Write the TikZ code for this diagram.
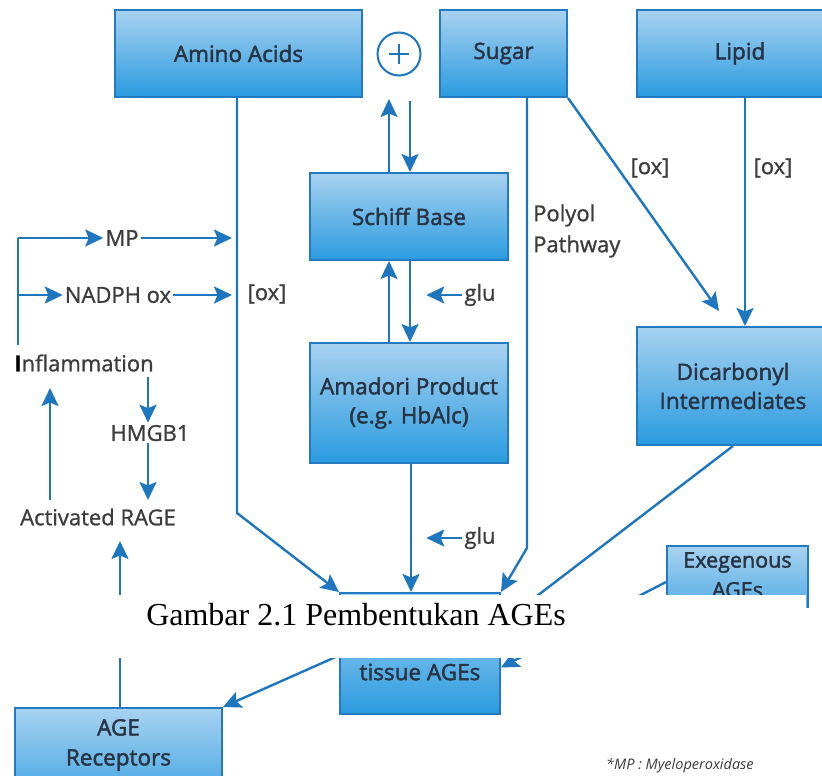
\documentclass[tikz,border=0pt]{standalone}
\usepackage{fontspec}
\setmainfont{Open Sans}
\newfontfamily\boxfont{Open Sans}[FakeBold=2]
\newfontfamily\lblfont{Open Sans}[FakeBold=1]
\newfontfamily\capfont{Liberation Serif}
\newfontfamily\fnfont{Open Sans}
\usetikzlibrary{arrows.meta,calc}
\definecolor{lineblue}{RGB}{30,118,190}
\definecolor{boxtop}{RGB}{168,210,240}
\definecolor{boxbot}{RGB}{42,155,224}
\definecolor{boxedge}{RGB}{35,122,192}
\definecolor{boxtext}{RGB}{40,52,68}
\definecolor{labeltext}{RGB}{60,60,60}
\tikzset{
  agebox/.style={rectangle, draw=boxedge, line width=2pt, top color=boxtop, bottom color=boxbot,
    inner sep=0pt, text=boxtext, font=\boxfont\fontsize{22.5}{29}\selectfont, align=center},
  boxlbl/.style={inner sep=0pt, text=boxtext, font=\boxfont\fontsize{22.5}{30}\selectfont, align=center},
  lbl/.style={inner sep=2pt, text=labeltext, font=\lblfont\fontsize{22}{31}\selectfont},
  conn/.style={draw=lineblue, line width=2.4pt, -{Stealth[length=18pt,width=17pt,inset=3.5pt]}},
  plainline/.style={draw=lineblue, line width=2.4pt}
}
\begin{document}
\begin{tikzpicture}[x=1pt,y=-1pt]
\useasboundingbox (0,0) rectangle (822,776);
\fill[white] (0,0) rectangle (822,776);

% boxes
\node[agebox, minimum width=247pt, minimum height=87pt] (amino) at (238.5,53.5) {Amino Acids};
\node[agebox, minimum width=127pt, minimum height=87pt] (sugar) at (503.5,53.5) {Sugar};
\node[agebox, minimum width=206pt, minimum height=87pt] (lipid) at (740,53.5) {Lipid};
\node[agebox, minimum width=198pt, minimum height=87pt] (schiff) at (409,216.5) {Schiff Base};
\node[agebox, minimum width=198pt, minimum height=120pt] (amadori) at (409,403) {Amadori Product\\(e.g. HbAlc)};
\node[agebox, minimum width=192pt, minimum height=118pt] (dicarb) at (733,386) {Dicarbonyl\\Intermediates};
\node[agebox, minimum width=160pt, minimum height=121pt] (tissue) at (420,653.5) {};
\node[boxlbl] (tissuetxt) at (420,672) {tissue AGEs};
\node[agebox, minimum width=141pt, minimum height=94pt] (exo) at (737.5,593) {};
\node[boxlbl, font=\boxfont\fontsize{21.5}{30}\selectfont] (exotxt) at (737.5,575) {Exegenous\\AGEs};
\node[agebox, minimum width=207pt, minimum height=112pt] (agerec) at (118.5,764) {};
\node[boxlbl] (agerectxt) at (118.5,745) {AGE\\Receptors};

% plus circle
\node[circle, draw=lineblue, line width=2pt, minimum size=43pt, inner sep=0pt] (plus) at (399,54) {};
\draw[plainline, line width=2.8pt] ($(plus.center)+(-10,0)$) -- ($(plus.center)+(10,0)$);
\draw[plainline, line width=2.8pt] ($(plus.center)+(0,-10)$) -- ($(plus.center)+(0,10)$);

% labels
\node[lbl] (mp) at (122,238) {MP};
\node[lbl] (nadph) at (118,295) {NADPH ox};
\node[lbl] (oxl) at (267,294) {[ox]};
\node[lbl] (infl) at (84,363) {{\color{black}\bfseries I}nflammation};
\node[lbl] (hmgb) at (150,433) {HMGB1};
\node[lbl] (rage) at (98,517) {Activated RAGE};
\node[lbl] (glu1) at (480,295) {glu};
\node[lbl] (glu2) at (480,538) {glu};
\node[lbl] (ox1) at (650,168) {[ox]};
\node[lbl] (ox2) at (773,168) {[ox]};
\node[lbl, align=left, anchor=west] (polyol) at (531,231) {Polyol\\Pathway};

% named free ends
\coordinate (lt) at (18,238);
\coordinate (lm) at (18,295);
\coordinate (lb) at (18,345);
\coordinate (mpend) at (232,238);
\coordinate (nadend) at (232,295);
\coordinate (infup0) at (50,500);
\coordinate (infup1) at (50,388);

% Schiff base <-> plus
\draw[conn] ([xshift=-20pt]schiff.north) -- ++(0,-73);
\draw[conn] ([xshift=11pt,yshift=-24pt]plus.south) -- ([xshift=1pt]schiff.north);
% Schiff <-> Amadori
\draw[conn] ([xshift=-20pt]amadori.north) -- ([xshift=-20pt]schiff.south);
\draw[conn] ([xshift=1pt]schiff.south) -- ([xshift=1pt]amadori.north);
\draw[conn] (glu1.west) -- ++(-36,0);
% Amadori -> tissue
\draw[conn] ([xshift=2pt]amadori.south) -- ([xshift=-9pt]tissue.north);
\draw[conn] (glu2.west) -- ++(-36,0);
% Amino acids -> tissue
\draw[conn] ([xshift=-1.5pt]amino.south) -- ++(0,415) -- (tissue.north west);
% Sugar -> tissue
\draw[conn] ([xshift=23.5pt]sugar.south) -- ++(0,450) -- (tissue.north east);
% Sugar -> dicarbonyl
\draw[conn] (sugar.south east) -- ($(dicarb.north west)+(83,-15)$);
% Lipid -> dicarbonyl
\draw[conn] ([xshift=5pt]lipid.south) -- ([xshift=12pt]dicarb.north);
% dicarbonyl -> tissue
\draw[conn] (dicarb.south) -- ($(tissue.east)+(0,-30)$);
% exogenous -> tissue
\draw[conn] ($(exo.west)+(0,-11)$) -- ($(tissue.east)+(0,14)$);
% tissue -> AGE receptors
\draw[conn] ($(tissue.west)+(0,2)$) -- (agerec.north east);
% AGE receptors -> activated RAGE
\draw[conn] ([xshift=1.5pt]agerec.north) -- ++(0,-166);
% Activated RAGE -> Inflammation
\draw[conn] (infup0) -- (infup1);
% Inflammation -> HMGB1 -> RAGE
\draw[conn] (148,377) -- ([xshift=-2pt]hmgb.north);
\draw[conn] ([xshift=-2pt]hmgb.south) -- (148,500);
% inflammation branch
\draw[plainline] (lb) -- (lt);
\draw[conn] (lt) -- (mp.west);
\draw[conn] (lm) -- (nadph.west);
\draw[conn] (mp.east) -- (mpend);
\draw[conn] (nadph.east) -- (nadend);

% white band with caption
\fill[white] (0,595) rectangle (806,658);
\fill[white] (806,608) rectangle (822,658);
\node[font=\capfont\fontsize{32}{36}\selectfont, anchor=base, inner sep=0pt] (cap) at (356,625) {Gambar 2.1 Pembentukan AGEs};

% footnote
\node[font=\fnfont\itshape\fontsize{14.5}{16}\selectfont, text=labeltext, anchor=base west, inner sep=0pt] (fn) at (606,769) {*MP : Myeloperoxidase};
\end{tikzpicture}
\end{document}
